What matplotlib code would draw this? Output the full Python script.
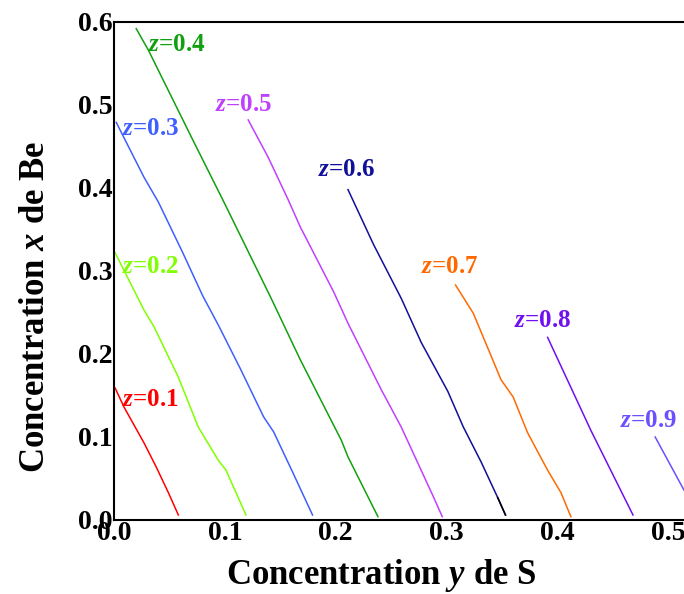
import matplotlib
matplotlib.use("Agg")
import matplotlib.pyplot as plt

# iso-z curves: points (y de S, x de Be) for each value of z
z_values = [0.1, 0.2, 0.3, 0.4, 0.5, 0.6, 0.7, 0.8, 0.9]

y_S = {
    0.1: [0.001, 0.009, 0.027, 0.038, 0.049, 0.058],
    0.2: [0.001, 0.027, 0.036, 0.058, 0.076, 0.094, 0.101, 0.119],
    0.3: [0.002, 0.027, 0.040, 0.062, 0.080, 0.094, 0.114, 0.135, 0.144, 0.162, 0.179],
    0.4: [0.020, 0.031, 0.071, 0.098, 0.141, 0.168, 0.205, 0.211, 0.238],
    0.5: [0.121, 0.139, 0.157, 0.168, 0.198, 0.211, 0.241, 0.259, 0.288, 0.296],
    0.6: [0.211, 0.234, 0.259, 0.277, 0.301, 0.315, 0.331, 0.346, 0.353],
    0.7: [0.308, 0.324, 0.349, 0.360, 0.373, 0.391, 0.403, 0.412],
    0.8: [0.391, 0.430, 0.468],
    0.9: [0.488, 0.514, 0.527],
}
x_Be = {
    0.1: [0.159, 0.136, 0.093, 0.064, 0.033, 0.006],
    0.2: [0.322, 0.253, 0.233, 0.172, 0.112, 0.072, 0.060, 0.006],
    0.3: [0.479, 0.413, 0.383, 0.322, 0.270, 0.235, 0.182, 0.124, 0.106, 0.055, 0.006],
    0.4: [0.592, 0.566, 0.458, 0.386, 0.269, 0.193, 0.096, 0.076, 0.004],
    0.5: [0.482, 0.437, 0.386, 0.353, 0.275, 0.237, 0.157, 0.112, 0.028, 0.004],
    0.6: [0.398, 0.332, 0.267, 0.214, 0.155, 0.112, 0.070, 0.027, 0.006],
    0.7: [0.283, 0.249, 0.169, 0.148, 0.105, 0.060, 0.033, 0.004],
    0.8: [0.220, 0.108, 0.006],
    0.9: [0.100, 0.036, 0.004],
}

colors = {
    0.1: "#ff0000", 0.2: "#80ff00", 0.3: "#3f5fff", 0.4: "#10a010",
    0.5: "#c040ff", 0.6: "#10109a", 0.7: "#ff6a00", 0.8: "#7010f0",
    0.9: "#6a50ff",
}
# where each "z=..." label sits (left, vertical centre)
label_pos = {
    0.1: (0.007, 0.145), 0.2: (0.007, 0.305), 0.3: (0.007, 0.472),
    0.4: (0.031, 0.573), 0.5: (0.091, 0.500), 0.6: (0.184, 0.422),
    0.7: (0.277, 0.305), 0.8: (0.361, 0.240), 0.9: (0.456, 0.120),
}

plt.rcParams["font.family"] = ["Liberation Serif", "DejaVu Serif"]
plt.rcParams["mathtext.fontset"] = "custom"
plt.rcParams["mathtext.rm"] = "Liberation Serif:bold"
plt.rcParams["mathtext.it"] = "Liberation Serif:italic:bold"

fig = plt.figure(figsize=(6.84, 5.94), dpi=100)
ax = fig.add_axes([0.1667, 0.1246, 0.8333, 0.8384])

for z in z_values:
    ax.plot(y_S[z], x_Be[z], color=colors[z], lw=1.1, solid_joinstyle="round")
    lx, ly = label_pos[z]
    ax.text(lx, ly, r"$z$=" + str(z), color=colors[z], fontsize=18,
            fontweight="bold", va="center", ha="left")

# the tail of the z=0.6 curve is drawn in black
ax.plot(y_S[0.6][-2:], x_Be[0.6][-2:], color="black", lw=1.1)

ax.set_xlim(0, 0.514)
ax.set_ylim(0, 0.6)
ax.set_xticks([0.0, 0.1, 0.2, 0.3, 0.4, 0.5])
ax.set_yticks([0.0, 0.1, 0.2, 0.3, 0.4, 0.5, 0.6])
ax.set_xticklabels(["0.0", "0.1", "0.2", "0.3", "0.4", "0.5"])
ax.set_yticklabels(["0.0", "0.1", "0.2", "0.3", "0.4", "0.5", "0.6"])
ax.tick_params(length=0, pad=1, labelsize=20)
for lab in ax.get_xticklabels() + ax.get_yticklabels():
    lab.set_fontweight("bold")

ax.spines["right"].set_visible(False)
for s in ["left", "bottom", "top"]:
    ax.spines[s].set_linewidth(1.5)

fig.text(381 / 684, 1 - 576 / 594, r"Concentration $y$ de S", fontsize=25,
         fontweight="bold", ha="center", va="center")
fig.text(36 / 684, 1 - 307 / 594, r"Concentration $x$ de Be", fontsize=25,
         fontweight="bold", ha="center", va="center", rotation=90)

fig.savefig("out.png", dpi=100)
